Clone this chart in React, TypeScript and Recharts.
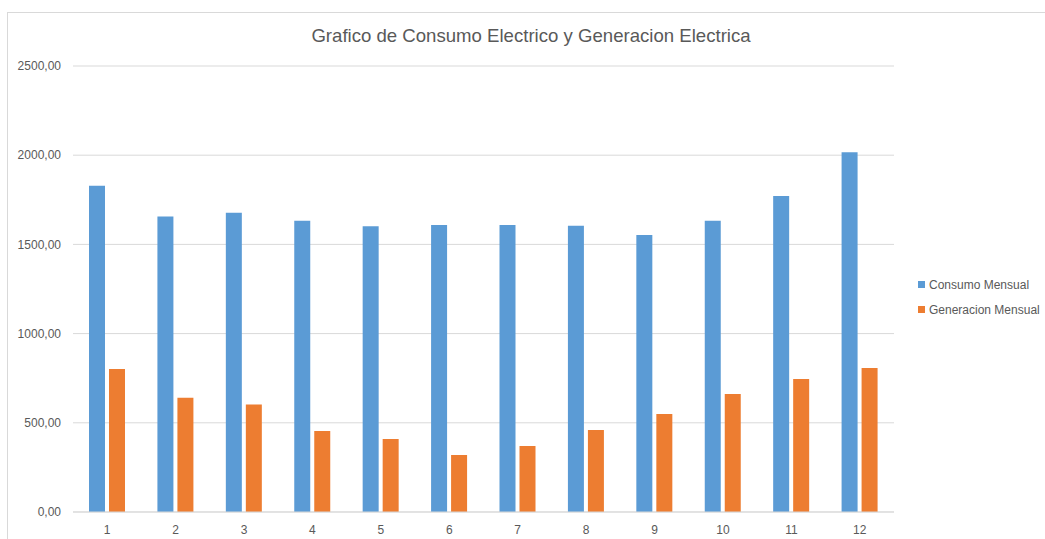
import { BarChart, Bar, XAxis, YAxis, CartesianGrid } from "recharts";

const months = ["1", "2", "3", "4", "5", "6", "7", "8", "9", "10", "11", "12"];
const consumoMensual = [1829, 1656, 1677, 1632, 1602, 1609, 1609, 1605, 1552, 1632, 1772, 2017];
const generacionMensual = [801, 640, 603, 454, 409, 319, 370, 459, 549, 661, 745, 807];
const yTicks = [0, 500, 1000, 1500, 2000, 2500];

const seriesNames = ["Consumo Mensual", "Generacion Mensual"];
const seriesColors = ["#5B9BD5", "#ED7D31"];

const data = months.map((m, i) => ({
  month: m,
  consumo: consumoMensual[i],
  generacion: generacionMensual[i],
}));

const fontFamily = "'Liberation Sans', Arial, sans-serif";

const fmt = (v: number) => v.toFixed(2).replace(".", ",");

function LegendBox() {
  return (
    <div
      style={{
        position: "absolute",
        left: 918,
        top: 272,
        fontFamily,
        fontSize: 12,
        color: "#595959",
      }}
    >
      {seriesNames.map((name, i) => (
        <div
          key={name}
          style={{ display: "flex", alignItems: "center", height: 25 }}
        >
          <span
            style={{
              width: 7,
              height: 7,
              background: seriesColors[i],
              marginRight: 4,
              display: "inline-block",
            }}
          />
          {name}
        </div>
      ))}
    </div>
  );
}

export default function App() {
  return (
    <div
      style={{
        position: "absolute",
        left: 0,
        top: 0,
        width: 1045,
        height: 539,
        overflow: "hidden",
        background: "#fff",
      }}
    >
      <div
        style={{
          position: "absolute",
          left: 7,
          top: 12,
          width: 1100,
          height: 600,
          borderLeft: "1px solid #d9d9d9",
          borderTop: "1px solid #d9d9d9",
        }}
      />
      <div
        style={{
          position: "absolute",
          left: 0,
          width: 1062,
          top: 25,
          textAlign: "center",
          fontFamily,
          fontSize: 18.6,
          color: "#595959",
        }}
      >
        Grafico de Consumo Electrico y Generacion Electrica
      </div>
      <div style={{ position: "absolute", left: 0, top: 0 }}>
        <BarChart
          width={1045}
          height={539}
          data={data}
          margin={{ top: 66, right: 151, bottom: 7, left: 0 }}
          barSize={16}
          barGap={4}
        >
          <CartesianGrid vertical={false} stroke="#d9d9d9" />
          <XAxis
            dataKey="month"
            height={20}
            stroke="#d9d9d9"
            tickLine={false}
            tickSize={0}
            tickMargin={13}
            tick={{ fill: "#595959", fontSize: 12, fontFamily }}
          />
          <YAxis
            width={73}
            domain={[0, 2500]}
            ticks={yTicks}
            tickFormatter={fmt}
            axisLine={false}
            tickLine={false}
            tickSize={6}
            tickMargin={6}
            tick={{ fill: "#595959", fontSize: 12, fontFamily }}
          />
          <Bar
            dataKey="consumo"
            name={seriesNames[0]}
            fill={seriesColors[0]}
            isAnimationActive={false}
          />
          <Bar
            dataKey="generacion"
            name={seriesNames[1]}
            fill={seriesColors[1]}
            isAnimationActive={false}
          />
        </BarChart>
      </div>
      <LegendBox />
    </div>
  );
}
